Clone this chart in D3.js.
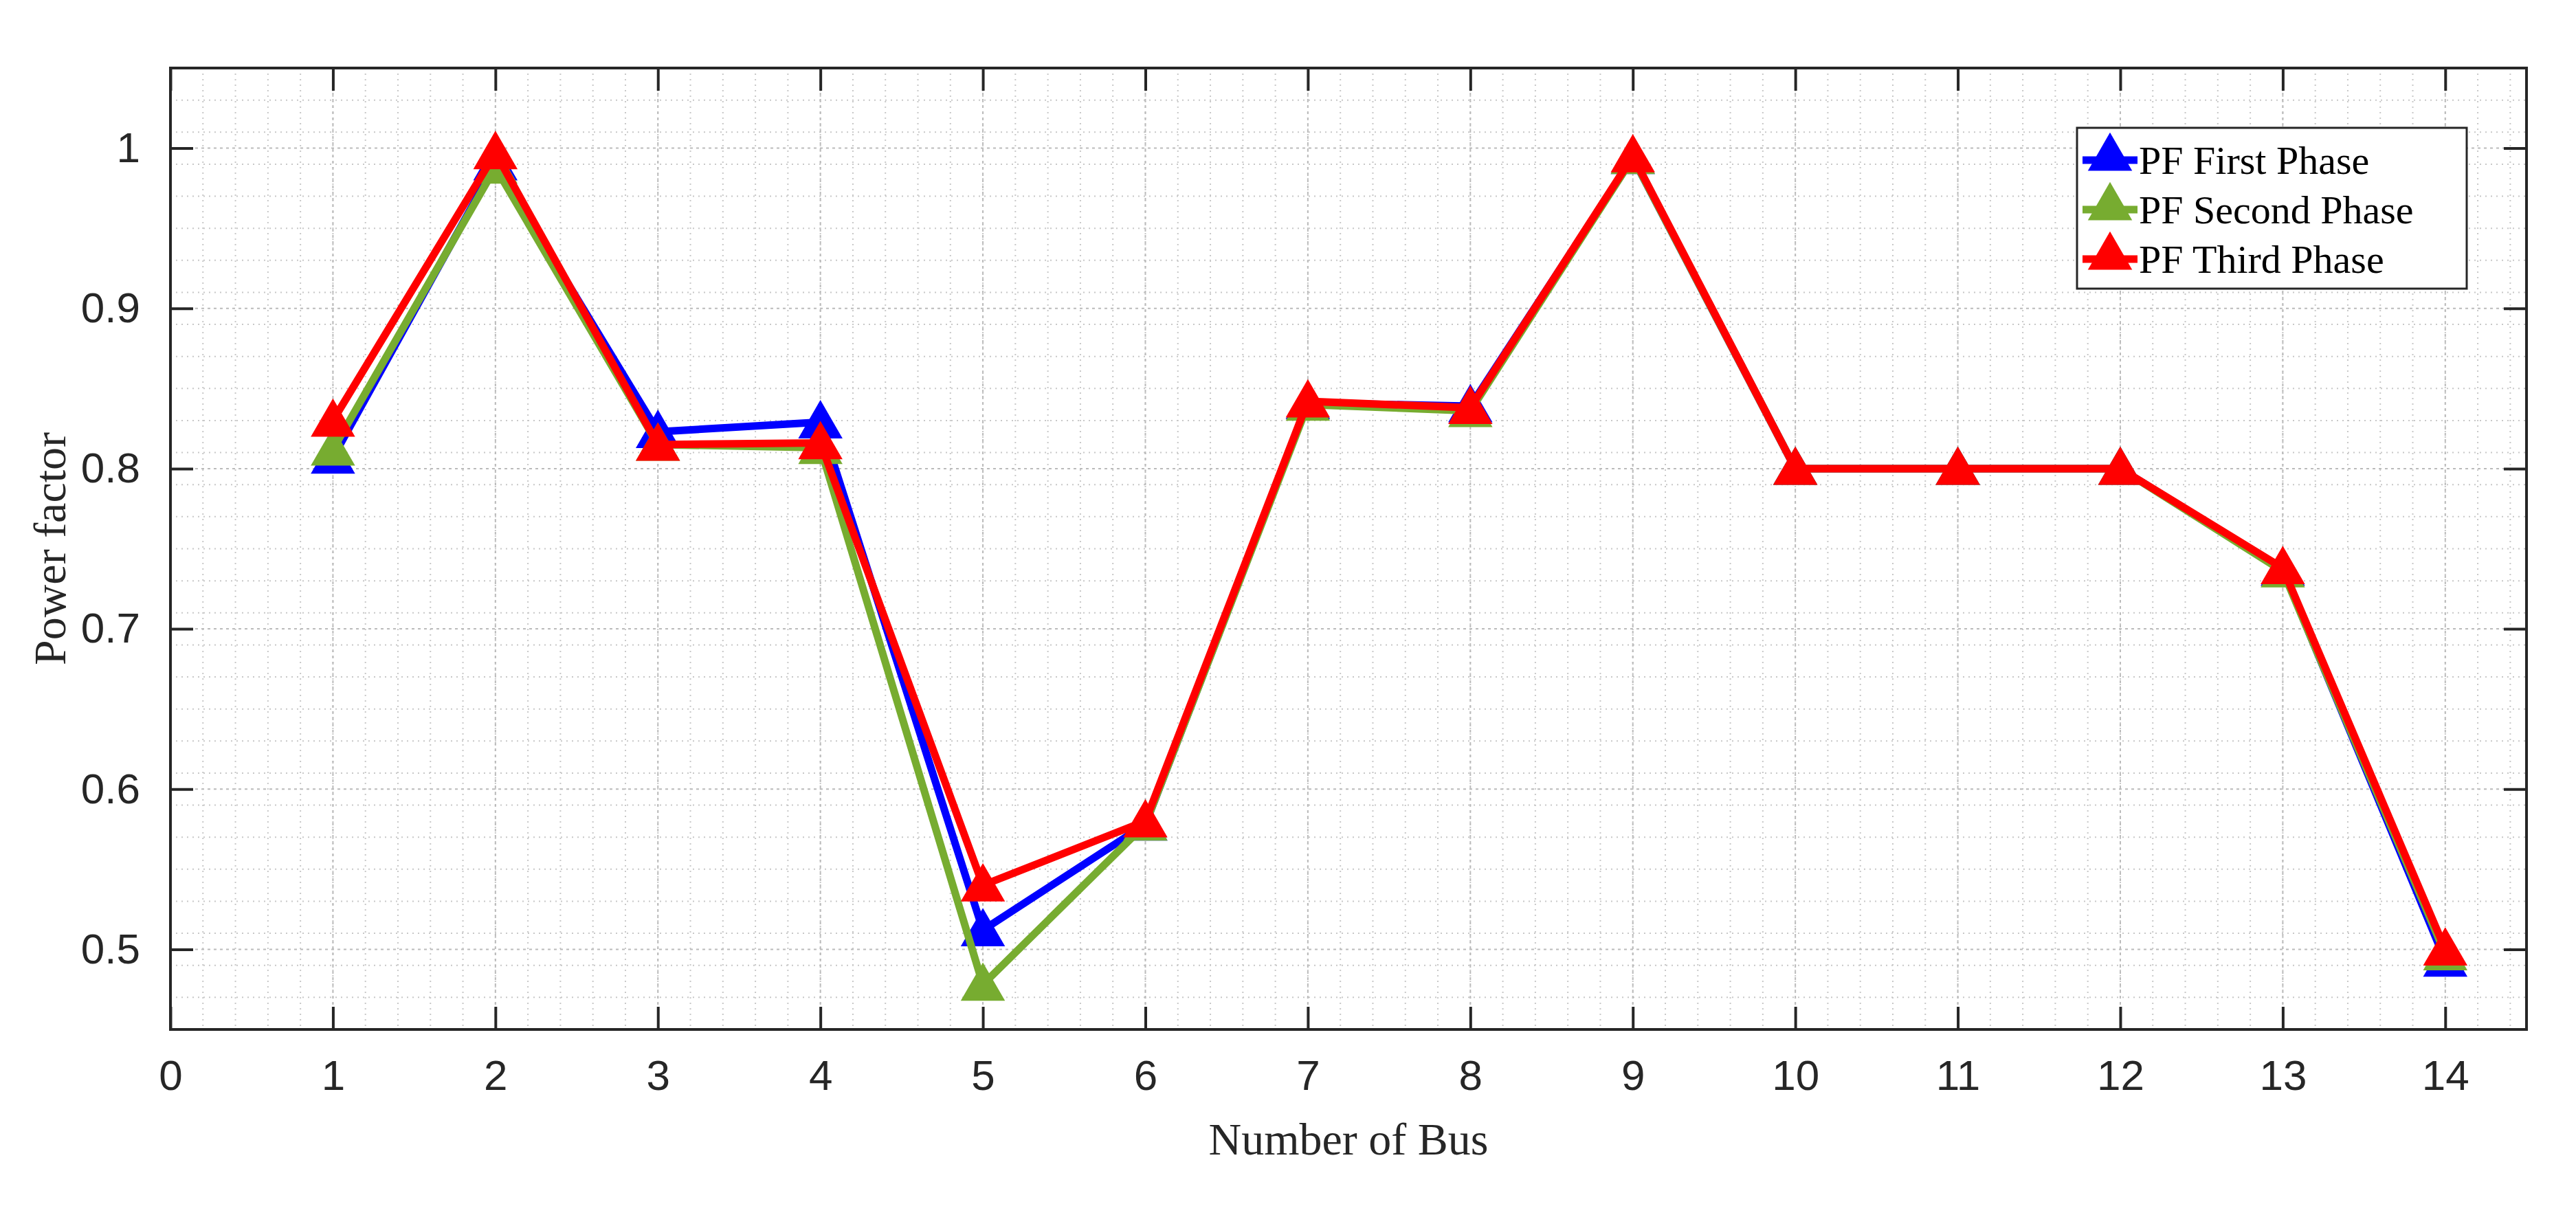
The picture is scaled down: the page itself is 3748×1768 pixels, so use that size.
<!DOCTYPE html>
<html><head><meta charset="utf-8">
<script src="https://cdn.jsdelivr.net/npm/d3@7"></script>
<style>body{margin:0;background:#fff}</style></head>
<body><svg id="c" width="3748" height="1768"></svg>
<script>
const buses = [1,2,3,4,5,6,7,8,9,10,11,12,13,14];
const pfFirst  = [0.807,0.990,0.823,0.829,0.512,0.578,0.841,0.839,0.994,0.800,0.800,0.800,0.737,0.493];
const pfSecond = [0.812,0.988,0.815,0.813,0.478,0.578,0.840,0.836,0.994,0.800,0.800,0.800,0.736,0.497];
const pfThird  = [0.830,0.997,0.815,0.816,0.540,0.580,0.842,0.838,0.995,0.800,0.800,0.800,0.738,0.500];
const seriesNames = ["PF First Phase","PF Second Phase","PF Third Phase"];
const seriesColors = ["#0000ff","#77ac30","#ff0000"];
const xTicks = d3.range(0,15);
const yTicks = [0.5,0.6,0.7,0.8,0.9,1];

const svg = d3.select("#c");
const L=248,R=3676,T=99,B=1498;
const x = d3.scaleLinear().domain([0,14.5]).range([L,R]);
const y = d3.scaleLinear().domain([0.45,1.05]).range([B,T]);
const g = svg.append("g");

const xMinor = d3.range(0,14.5001,0.2).map(v=>+v.toFixed(2));
const yMinor = d3.range(0.45,1.0501,0.02).map(v=>+v.toFixed(3));
g.selectAll(".xm").data(xMinor).join("line").attr("x1",d=>x(d)).attr("x2",d=>x(d)).attr("y1",T).attr("y2",B)
 .attr("stroke","#c8c8c8").attr("stroke-width",2).attr("stroke-dasharray","2,6");
g.selectAll(".ym").data(yMinor).join("line").attr("y1",d=>y(d)).attr("y2",d=>y(d)).attr("x1",L).attr("x2",R)
 .attr("stroke","#c8c8c8").attr("stroke-width",2).attr("stroke-dasharray","2,6");
g.selectAll(".xg").data(xTicks).join("line").attr("x1",d=>x(d)).attr("x2",d=>x(d)).attr("y1",T).attr("y2",B)
 .attr("stroke","#bbbbbb").attr("stroke-width",2).attr("stroke-dasharray","4,5");
g.selectAll(".yg").data(yTicks).join("line").attr("y1",d=>y(d)).attr("y2",d=>y(d)).attr("x1",L).attr("x2",R)
 .attr("stroke","#bbbbbb").attr("stroke-width",2).attr("stroke-dasharray","4,5");

const tl=33;
const ax = svg.append("g").attr("transform",`translate(0,${B})`)
 .call(d3.axisBottom(x).tickValues(xTicks).tickFormat(d3.format("d")).tickSizeInner(-tl).tickSizeOuter(0).tickPadding(44));
const ay = svg.append("g").attr("transform",`translate(${L},0)`)
 .call(d3.axisLeft(y).tickValues(yTicks).tickFormat(d=>d===1?"1":d3.format(".1f")(d)).tickSizeInner(-tl).tickSizeOuter(0).tickPadding(44));
const axT = svg.append("g").attr("transform",`translate(0,${T})`)
 .call(d3.axisTop(x).tickValues(xTicks).tickFormat("").tickSizeInner(-tl).tickSizeOuter(0));
const ayR = svg.append("g").attr("transform",`translate(${R},0)`)
 .call(d3.axisRight(y).tickValues(yTicks).tickFormat("").tickSizeInner(-tl).tickSizeOuter(0));
[ax,ay,axT,ayR].forEach(a=>{
  a.select(".domain").remove();
  a.selectAll("line").attr("stroke","#262626").attr("stroke-width",4);
  a.selectAll("text").attr("font-family","Liberation Sans, Arial").attr("font-size",62).attr("fill","#262626");
});
ax.selectAll("text").attr("dy","0.71em");
svg.append("rect").attr("x",L).attr("y",T).attr("width",R-L).attr("height",B-T)
 .attr("fill","none").attr("stroke","#262626").attr("stroke-width",4);

const all=[pfFirst,pfSecond,pfThird];
const tri = d3.symbol().type(d3.symbolTriangle).size(1800);
const line = d3.line().x((d,i)=>x(buses[i])).y(d=>y(d));
all.forEach((vals,k)=>{
  svg.append("path").datum(vals).attr("d",line).attr("fill","none")
   .attr("stroke",seriesColors[k]).attr("stroke-width",11).attr("stroke-linejoin","miter");
  svg.append("g").selectAll("path").data(vals).join("path")
   .attr("transform",(d,i)=>`translate(${x(buses[i])},${y(d)+5})`).attr("d",tri).attr("fill",seriesColors[k]);
});

const lg = svg.append("g");
lg.append("rect").attr("x",3022).attr("y",186).attr("width",567).attr("height",234)
 .attr("fill","#fff").attr("stroke","#262626").attr("stroke-width",3);
seriesNames.forEach((n,k)=>{
  const cy=186+47+k*72;
  lg.append("line").attr("x1",3030).attr("x2",3110).attr("y1",cy).attr("y2",cy)
   .attr("stroke",seriesColors[k]).attr("stroke-width",11);
  lg.append("path").attr("transform",`translate(3070,${cy-3})`).attr("d",tri).attr("fill",seriesColors[k]);
  lg.append("text").attr("x",3112).attr("y",cy+20).text(n)
   .attr("font-family","Liberation Serif, Times New Roman").attr("font-size",58).attr("fill","#000");
});

svg.append("text").attr("x",(L+R)/2).attr("y",1680).attr("text-anchor","middle").text("Number of Bus")
 .attr("font-family","Liberation Serif, Times New Roman").attr("font-size",66).attr("fill","#262626");
svg.append("text").attr("transform",`translate(95,${(T+B)/2}) rotate(-90)`).attr("text-anchor","middle").text("Power factor")
 .attr("font-family","Liberation Serif, Times New Roman").attr("font-size",66).attr("fill","#262626");
</script></body></html>
